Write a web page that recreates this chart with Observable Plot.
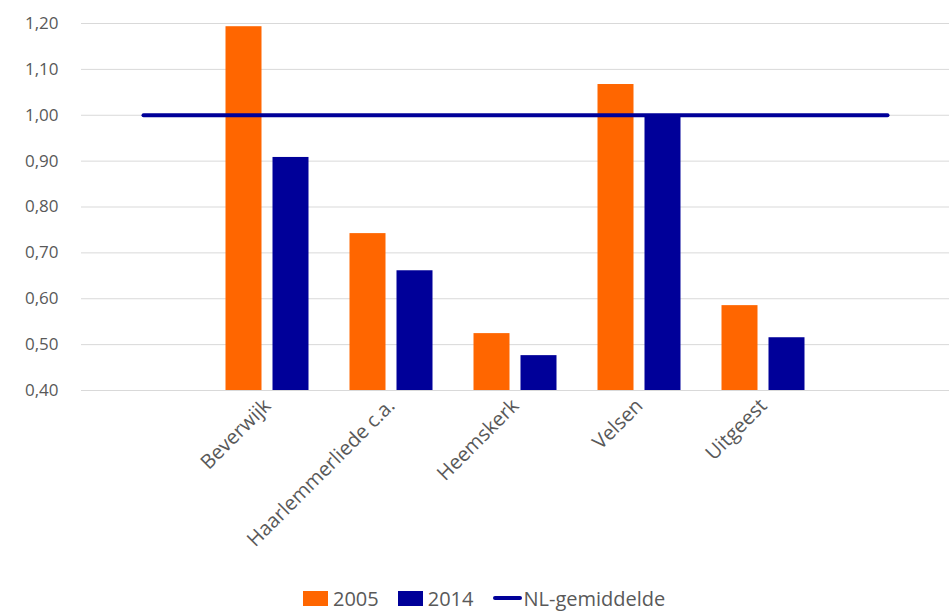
<!DOCTYPE html>
<html>
<head>
<meta charset="utf-8">
<script src="https://cdn.jsdelivr.net/npm/d3@7"></script>
<script src="https://cdn.jsdelivr.net/npm/@observablehq/plot@0.6"></script>
<style>
  body { margin: 0; background: #fff; font-family: "Open Sans", Lato, sans-serif; }
  #legend { display: flex; justify-content: flex-start; align-items: center; height: 30px; padding-left: 303px; font-size: 20px; color: #595959; }
  .sw { display: inline-block; width: 25px; height: 15px; margin-right: 5px; }
  .ln { display: inline-block; width: 29px; height: 4px; border-radius: 2px; margin-right: 2px; }
  .item { display: flex; align-items: center; margin-right: 19px; }
</style>
</head>
<body>
<div id="chart"></div>
<div id="legend"></div>
<script>
const categories = ["Beverwijk", "Haarlemmerliede c.a.", "Heemskerk", "Velsen", "Uitgeest"];
const values2005 = [1.193, 0.742, 0.524, 1.067, 0.585];
const values2014 = [0.908, 0.661, 0.476, 0.999, 0.515];
const nlAverage = 1.00;
const yTicks = [0.4, 0.5, 0.6, 0.7, 0.8, 0.9, 1.0, 1.1, 1.2];
const seriesNames = ["2005", "2014", "NL-gemiddelde"];
const colors = ["#FF6600", "#000099", "#000099"];

const padStart = " ", padEnd = "  ";
const domain = [padStart, ...categories, padEnd];
const rows2005 = categories.map((c, i) => ({cat: c, v: values2005[i]}));
const rows2014 = categories.map((c, i) => ({cat: c, v: values2014[i]}));
const nlRows = [{cat: padStart, v: nlAverage}, {cat: padEnd, v: nlAverage}];
const fmt = d => d.toFixed(2).replace(".", ",");

const chart = Plot.plot({
  width: 952,
  height: 583,
  marginLeft: 81,
  marginRight: 3,
  marginTop: 23,
  marginBottom: 193,
  style: {fontFamily: '"Open Sans", Lato, sans-serif', color: "#595959", background: "#fff"},
  x: {domain, padding: 0, label: null},
  y: {domain: [0.4, 1.2], label: null},
  marks: [
    Plot.ruleY(yTicks, {stroke: "#d9d9d9", strokeWidth: 1}),
    Plot.barY(rows2005, {x: "cat", y1: 0.4, y2: "v", fill: colors[0], insetLeft: 44, insetRight: 44, dx: -23.5}),
    Plot.barY(rows2014, {x: "cat", y1: 0.4, y2: "v", fill: colors[1], insetLeft: 44, insetRight: 44, dx: 23.5}),
    Plot.lineY(nlRows, {x: "cat", y: "v", stroke: colors[2], strokeWidth: 4, strokeLinecap: "round"}),
    Plot.axisY({ticks: yTicks, tickFormat: fmt, tickSize: 0, tickPadding: 23, fontSize: 17, label: null}),
    Plot.axisX({tickSize: 0, tickRotate: -45, fontSize: 20, tickPadding: 12, label: null})
  ]
});
document.getElementById("chart").appendChild(chart);

const legend = document.getElementById("legend");
seriesNames.forEach((name, i) => {
  const item = document.createElement("span");
  item.className = "item";
  const mark = document.createElement("span");
  mark.className = i < 2 ? "sw" : "ln";
  mark.style.background = colors[i];
  item.appendChild(mark);
  item.appendChild(document.createTextNode(name));
  legend.appendChild(item);
});
</script>
</body>
</html>
